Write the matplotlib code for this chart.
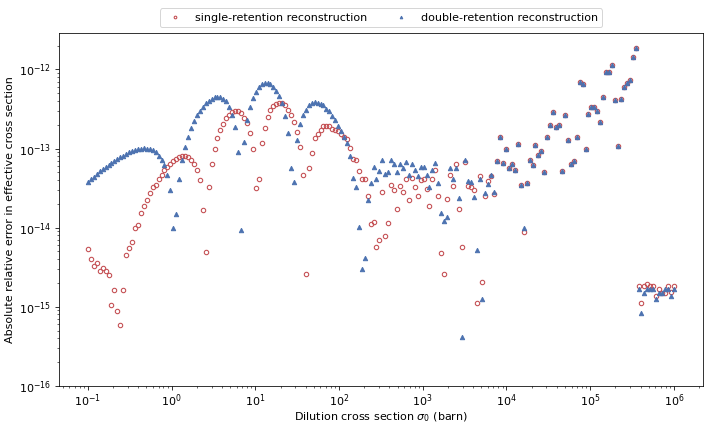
import numpy as np
import matplotlib
matplotlib.use("Agg")
import matplotlib.pyplot as plt

# dilution grid: 200 points, log-spaced from 0.1 to 1e6 barn
sigma0 = np.logspace(-1, 6, 200)

# log10 of the absolute relative error
single_log10 = [
    -14.27, -14.40, -14.49, -14.45, -14.55, -14.51, -14.55, -14.60, -14.98, -14.79,
    -15.05, -15.23, -14.79, -14.34, -14.26, -14.18, -14.00, -13.97, -13.81, -13.73,
    -13.65, -13.565, -13.49, -13.456, -13.39, -13.33, -13.275, -13.23, -13.19, -13.16,
    -13.13, -13.11, -13.095, -13.09, -13.11, -13.14, -13.19, -13.275, -13.40, -13.78,
    -14.31, -13.48, -13.20, -13.00, -12.87, -12.77, -12.69, -12.62, -12.57, -12.535,
    -12.52, -12.53, -12.55, -12.61, -12.68, -12.80, -13.00, -13.50, -13.38, -12.93,
    -12.74, -12.60, -12.51, -12.46, -12.435, -12.425, -12.43, -12.45, -12.51, -12.57,
    -12.66, -12.79, -12.985, -13.34, -14.59, -13.25, -13.06, -12.87, -12.82, -12.76,
    -12.72, -12.715, -12.715, -12.75, -12.76, -12.78, -12.82, -12.855, -12.885, -12.99,
    -13.13, -13.15, -13.28, -13.38, -13.38, -13.60, -13.95, -13.93, -14.25, -14.16,
    -13.55, -14.10, -13.94, -13.465, -13.52, -13.76, -13.47, -13.55, -13.39, -13.65,
    -13.375, -13.49, -13.60, -13.40, -13.38, -13.515, -13.73, -13.39, -13.275, -13.60,
    -14.32, -14.58, -13.64, -13.34, -13.47, -13.20, -13.77, -14.24, -13.17, -13.47,
    -13.49, -13.53, -14.95, -13.35, -14.685, -13.60, -13.41, -13.35, -13.58, -13.16,
    -12.855, -13.18, -13.01, -13.25, -13.19, -13.27, -12.94, -13.46, -14.05, -13.44,
    -13.14, -13.21, -12.95, -13.08, -13.03, -13.30, -12.855, -12.70, -12.54, -12.73,
    -12.70, -13.29, -12.58, -12.89, -13.19, -13.16, -12.85, -12.16, -12.18, -13.01,
    -12.56, -12.48, -12.48, -12.52, -12.665, -12.35, -12.03, -12.03, -11.945, -12.39,
    -12.97, -12.38, -12.22, -12.17, -12.13, -11.845, -11.73, -14.74, -14.955, -14.74,
    -14.715, -14.74, -14.74, -14.86, -14.78, -14.82, -14.82, -14.74, -14.81, -14.74,
]

double_log10 = [
    -13.42, -13.39, -13.355, -13.32, -13.29, -13.26, -13.235, -13.21, -13.185, -13.16,
    -13.135, -13.11, -13.09, -13.07, -13.05, -13.035, -13.02, -13.01, -13.00, -12.995,
    -13.00, -13.005, -13.02, -13.05, -13.09, -13.15, -13.21, -13.33, -13.52, -14.00,
    -13.83, -13.39, -13.15, -12.985, -12.85, -12.745, -12.65, -12.58, -12.525, -12.47,
    -12.43, -12.40, -12.37, -12.35, -12.345, -12.345, -12.37, -12.40, -12.48, -12.57,
    -12.73, -13.04, -14.03, -12.92, -12.635, -12.47, -12.36, -12.29, -12.22, -12.19,
    -12.17, -12.17, -12.18, -12.22, -12.27, -12.34, -12.43, -12.585, -12.81, -13.245,
    -13.42, -12.89, -12.685, -12.57, -12.51, -12.45, -12.425, -12.415, -12.425, -12.44,
    -12.45, -12.50, -12.53, -12.585, -12.645, -12.71, -12.78, -12.86, -12.93, -13.10,
    -13.37, -13.48, -13.99, -14.52, -14.38, -13.65, -13.44, -13.23, -13.39, -13.29,
    -13.15, -13.32, -13.30, -13.15, -13.19, -13.30, -13.20, -13.25, -13.17, -13.33,
    -13.19, -13.275, -13.35, -13.23, -13.23, -13.34, -13.48, -13.27, -13.18, -13.435,
    -13.81, -13.91, -13.86, -13.25, -13.385, -13.24, -13.63, -15.38, -13.14, -13.41,
    -13.42, -13.61, -14.28, -13.38, -14.90, -13.56, -13.45, -13.33, -13.55, -13.16,
    -12.855, -13.18, -13.01, -13.25, -13.19, -13.27, -12.94, -13.46, -14.00, -13.44,
    -13.14, -13.21, -12.95, -13.08, -13.03, -13.30, -12.855, -12.70, -12.54, -12.73,
    -12.70, -13.29, -12.58, -12.89, -13.19, -13.16, -12.85, -12.16, -12.18, -13.01,
    -12.56, -12.48, -12.48, -12.52, -12.665, -12.35, -12.03, -12.03, -11.945, -12.39,
    -12.97, -12.38, -12.22, -12.17, -12.13, -11.845, -11.73, -14.78, -15.08, -14.82,
    -14.78, -14.78, -14.78, -14.90, -14.82, -14.82, -14.78, -14.78, -14.86, -14.78,
]

single_err = 10.0 ** np.array(single_log10)
double_err = 10.0 ** np.array(double_log10)

plt.rcParams["font.size"] = 11.3
plt.rcParams["xtick.major.size"] = 4
plt.rcParams["ytick.major.size"] = 4
plt.rcParams["xtick.minor.size"] = 2.3
plt.rcParams["ytick.minor.size"] = 2.3
plt.rcParams["xtick.major.pad"] = 2.5

fig = plt.figure(figsize=(10, 6.034), dpi=70.6)
ax = fig.add_axes([0.083, 0.094, 0.913, 0.829])

ax.plot(sigma0, single_err, linestyle="none", marker="o", markersize=4.5,
        markerfacecolor="none", markeredgecolor="#C44E52", markeredgewidth=1.1,
        label="single-retention reconstruction")
ax.plot(sigma0, double_err, linestyle="none", marker="^", markersize=4.5,
        color="#4C72B0", label="double-retention reconstruction")

ax.set_xscale("log")
ax.set_yscale("log")
ax.set_ylim(1e-16, 2.9e-12)
ax.set_xlabel(r"Dilution cross section $\sigma_0$ (barn)", labelpad=1.5)
ax.set_ylabel("Absolute relative error in effective cross section")

ax.legend(loc="lower center", bbox_to_anchor=(0.5, 1.0), ncol=2, markerscale=0.6)

fig.savefig("out.png", dpi=70.6)
